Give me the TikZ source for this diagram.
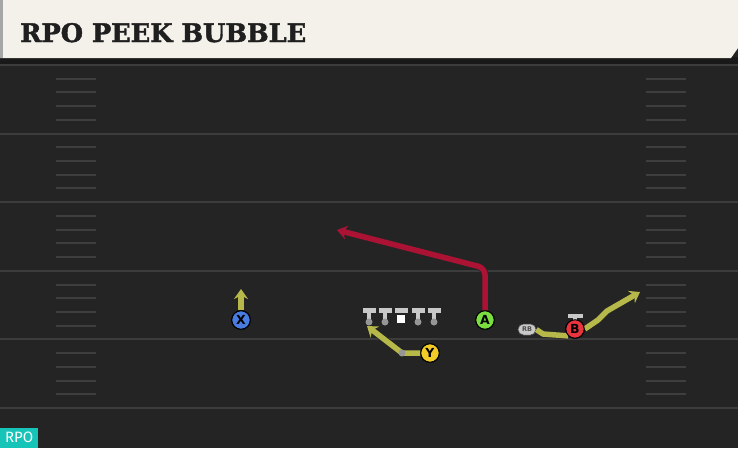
\documentclass[tikz,border=0pt]{standalone}
\usepackage{fontspec}
\usetikzlibrary{arrows.meta,shapes.misc}
\newfontfamily\titlefont{DejaVu Serif Condensed}[BoldFeatures={FakeBold=1.6}]
\newfontfamily\plfont{DejaVu Sans}
\newfontfamily\rpofont{Fira Sans}
\definecolor{fieldbg}{RGB}{36,36,36}
\definecolor{yardline}{RGB}{60,60,60}
\definecolor{hashc}{RGB}{62,62,62}
\definecolor{cream}{RGB}{244,241,234}
\definecolor{olive}{RGB}{182,184,74}
\definecolor{routered}{RGB}{172,18,52}
\definecolor{pgreen}{RGB}{122,222,62}
\definecolor{pblue}{RGB}{72,124,224}
\definecolor{pyellow}{RGB}{244,204,40}
\definecolor{pred}{RGB}{232,52,62}
\definecolor{olgray}{RGB}{200,200,200}
\definecolor{oldot}{RGB}{150,150,150}
\definecolor{tealc}{RGB}{22,196,184}
\tikzset{
  player/.style={circle,draw=black,line width=1pt,minimum size=18.5pt,inner sep=0pt,font=\plfont\bfseries\fontsize{12.5}{12.5}\selectfont,text=black},
  route/.style={line width=5.5pt,preaction={draw=black!85,line width=7pt}},
  tip/.style={-{Stealth[length=10pt,width=14pt,inset=3.5pt]}},
  hashmark/.style={draw=hashc,line width=2pt},
  yardl/.style={draw=yardline,line width=2pt},
  oldotst/.style={circle,fill=oldot,minimum size=7pt,inner sep=0pt},
}
\begin{document}
\begin{tikzpicture}[x=1pt,y=-1pt]
\useasboundingbox (0,0) rectangle (738,448);
\fill[fieldbg] (0,0) rectangle (738,448);
% yard lines
\foreach \yy in {65,133.6,202.2,270.8,339.4,408}
  \draw[yardl] (0,\yy) -- (738,\yy);
% hash marks
\foreach \k in {0,...,4}{
  \foreach \j in {1,2,3,4}{
    \pgfmathsetmacro{\hy}{65+68.6*\k+13.72*\j}
    \draw[hashmark] (56,\hy) -- (96,\hy);
    \draw[hashmark] (646,\hy) -- (686,\hy);
  }
}
% title band
\fill[black!90] (0,57) rectangle (738,64);
\fill[cream] (0,0) -- (738,0) -- (738,48) -- (731,58) -- (0,58) -- cycle;
\fill[black!35] (0,0) rectangle (3,58);
\node[anchor=base west,inner sep=0pt,text=black!88] (title) at (20,42) {\resizebox{286pt}{19pt}{\titlefont\bfseries\fontsize{26}{26}\selectfont RPO PEEK BUBBLE}};
% linemen
\foreach \xx/\nm in {369/LT,385/LG,418/RG,434/RT}{
  \fill[olgray] (\xx-6.5,308) rectangle (\xx+6.5,312.5);
  \fill[olgray] (\xx-2.2,312) rectangle (\xx+2.2,321);
  \node[oldotst] (\nm) at (\xx,322) {};
}
\fill[olgray] (394.5,308) rectangle (407.5,312.5);
\node[fill=white,minimum size=8pt,inner sep=0pt] (C) at (401,318.5) {};
% players
\node[player,fill=pblue] (X) at (241,320) {X};
\node[player,fill=pyellow] (Y) at (430,353) {Y};
\node[player,fill=pgreen] (A) at (485,320) {A};
\node[player,fill=pred] (B) at (575,329) {B};
\fill[olgray] (567.5,313.5) rectangle (582.5,318);
\fill[olgray] (573,318) rectangle (577,321);
\node[rounded rectangle,fill=olgray,draw=black!70,line width=0.5pt,minimum width=20pt,minimum height=11pt,inner sep=1pt,font=\plfont\bfseries\fontsize{6.5}{6.5}\selectfont,text=black!70] (RB) at (527,329.5) {RB};
% routes
\coordinate (xend) at (241,289);
\coordinate (ybend) at (402,353);
\coordinate (yend) at (367,326);
\coordinate (acorner) at (485,268);
\coordinate (aend) at (337,230);
\coordinate (bend) at (640,292);
\draw[route,olive,tip] (X.north) -- (xend);
\draw[route,olive,tip] (Y.west) -- (ybend) -- (yend);
\draw[route,routered,tip,rounded corners=7pt] (A.north) -- (acorner) -- (aend);
\draw[route,olive,line join=round] (RB.east) -- (543,334) -- (B.south west);
\draw[route,olive,tip,line join=round] (B.east) -- (598,320) -- (607,311) -- (bend);
% redraw players on top
\node[player,fill=pblue] at (X) {X};
\node[player,fill=pyellow] at (Y) {Y};
\node[player,fill=pgreen] at (A) {A};
\node[player,fill=pred] at (B) {B};
\fill[oldot] (402,353) circle (3.5pt);
% RPO label
\node[fill=tealc,anchor=south west,minimum width=38pt,minimum height=20pt,inner sep=0pt,font=\rpofont\fontsize{15}{15}\selectfont,text=white] (rpo) at (0,448) {RPO};
\end{tikzpicture}
\end{document}
